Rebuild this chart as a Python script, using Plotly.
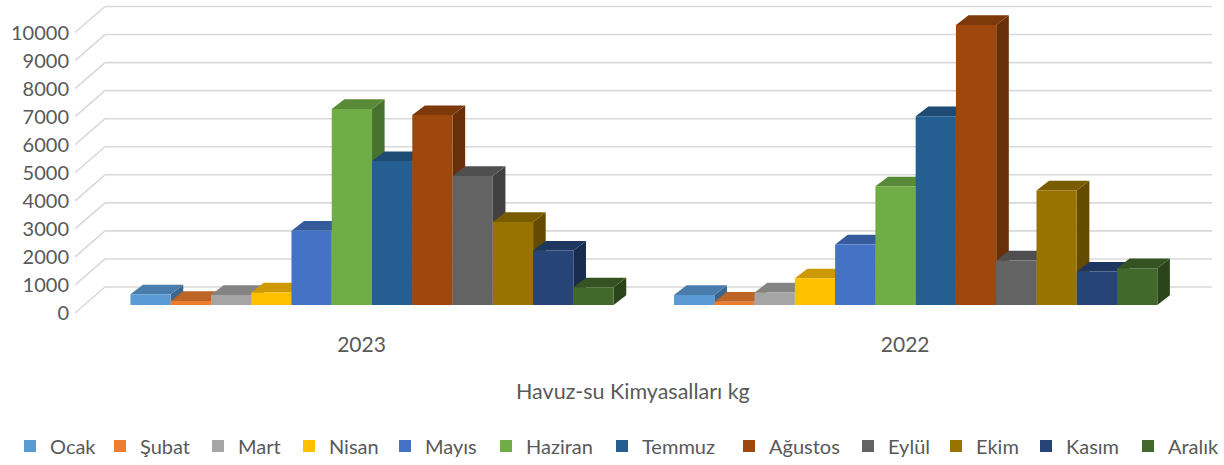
import plotly.graph_objects as go

# ---------------- data ----------------
months = ["Ocak", "Şubat", "Mart", "Nisan", "Mayıs", "Haziran",
          "Temmuz", "Ağustos", "Eylül", "Ekim", "Kasım", "Aralık"]
years = ["2023", "2022"]
values_2023 = [380, 140, 360, 450, 2650, 6990, 5130, 6770, 4600, 2960, 1940, 630]
values_2022 = [360, 120, 450, 950, 2160, 4230, 6730, 9980, 1590, 4080, 1190, 1310]
y_ticks = [0, 1000, 2000, 3000, 4000, 5000, 6000, 7000, 8000, 9000, 10000]
axis_title = "Havuz-su Kimyasalları kg"

colors = ["#5B9BD5", "#ED7D31", "#A5A5A5", "#FFC000", "#4472C4", "#70AD47",
          "#255E91", "#9E480E", "#636363", "#997300", "#264478", "#43682B"]

series = [values_2023, values_2022]

# ---------------- layout geometry (pixels) ----------------
W, H = 1224, 465
L, R, T, B = 75, 1224, 5, 318          # plot area
BAR_PX = 40.27                          # one bar width in px
X0 = 100.2                              # px of x-unit 0
BASE_PX = 305                           # px of value 0 at bar front plane
V_PX = 0.02805                          # px per value unit
GROUP_W = 13.5                          # 12 bars + 1.5 gap
GROUP_PAD = 0.75
BAR_DX, BAR_DY = 12.6, 9.7              # bar depth (px)
FRONT_OFF, BACK_OFF = 8, 18             # wall front/back offsets (px)
WALL_DX = 30                            # wall depth (px)
WALL_RIGHT = 1212                       # right end of back wall (px)
LABEL_SHIFT = 10.5                      # category label shift (px)
LEGEND_W = [45, 53, 46, 51, 56, 71, 82, 74, 43, 45, 57, 55]  # legend spacing (px)

xr = [(L - X0) / BAR_PX, (R - X0) / BAR_PX]
yr = [(BASE_PX - B) / V_PX, (BASE_PX - T) / V_PX]
dxu = BAR_DX / BAR_PX
dyv = BAR_DY / V_PX


def darken(hexc, f):
    h = hexc.lstrip("#")
    r, g, b = (int(h[i:i + 2], 16) for i in (0, 2, 4))
    return "#%02x%02x%02x" % (int(r * f), int(g * f), int(b * f))


fig = go.Figure()
shapes = []

# gridlines: back wall + left diagonal
u_front = (L - X0) / BAR_PX
u_back = (L + WALL_DX - X0) / BAR_PX
u_right = (WALL_RIGHT - X0) / BAR_PX
for v in y_ticks:
    vb = v + BACK_OFF / V_PX
    vf = v - FRONT_OFF / V_PX
    shapes.append(dict(type="line", layer="below", x0=u_back, x1=u_right, y0=vb, y1=vb,
                       line=dict(color="#D9D9D9", width=1.6)))
    shapes.append(dict(type="line", layer="below", x0=u_front, x1=u_back, y0=vf, y1=vb,
                       line=dict(color="#D9D9D9", width=1.6)))

# bar 3D faces (side + top), drawn under front faces
for g, vals in enumerate(series):
    for m, v in enumerate(vals):
        x0 = g * GROUP_W + GROUP_PAD + m
        x1 = x0 + 1
        side = (f"M{x1},0 L{x1 + dxu},{dyv} L{x1 + dxu},{v + dyv} L{x1},{v} Z")
        top = (f"M{x0},{v} L{x1},{v} L{x1 + dxu},{v + dyv} L{x0 + dxu},{v + dyv} Z")
        shapes.append(dict(type="path", layer="below", path=side,
                           fillcolor=darken(colors[m], 0.66), line=dict(width=0)))
        shapes.append(dict(type="path", layer="below", path=top,
                           fillcolor=darken(colors[m], 0.8), line=dict(width=0)))

# front faces
for m, name in enumerate(months):
    xs = [g * GROUP_W + GROUP_PAD + m + 0.5 for g in range(len(years))]
    ys = [series[g][m] for g in range(len(years))]
    fig.add_trace(go.Bar(x=xs, y=ys, width=1, name=name, legendwidth=LEGEND_W[m],
                         marker=dict(color=colors[m], line=dict(width=0)),
                         hoverinfo="name+y"))

tickx = [g * GROUP_W + GROUP_PAD + 6 - LABEL_SHIFT / BAR_PX for g in range(len(years))]

font = "Lato, 'DejaVu Sans', sans-serif"
fig.update_layout(
    width=W, height=H,
    margin=dict(l=L, r=W - R, t=T, b=H - B, autoexpand=False),
    paper_bgcolor="white", plot_bgcolor="white",
    barmode="overlay",
    shapes=shapes,
    showlegend=True,
    legend=dict(orientation="h", xref="paper", yref="paper",
                x=(10 - L) / (R - L), xanchor="left",
                y=(B - 446) / (B - T), yanchor="middle",
                font=dict(family=font, size=20, color="#595959"),
                itemwidth=30, tracegroupgap=0),
    xaxis=dict(range=xr, showgrid=False, zeroline=False, showline=False,
               tickvals=tickx, ticktext=years, ticks="", ticklabelstandoff=12,
               tickfont=dict(family=font, size=21, color="#595959")),
    yaxis=dict(range=yr, showgrid=False, zeroline=False, showline=False,
               tickvals=[v - FRONT_OFF / V_PX for v in y_ticks],
               ticktext=[str(v) for v in y_ticks], ticks="", ticklabelstandoff=5,
               tickfont=dict(family=font, size=20, color="#595959")),
    annotations=[dict(text=axis_title, xref="paper", yref="paper",
                      x=(633 - L) / (R - L), y=(B - 391) / (B - T),
                      xanchor="center", yanchor="middle", showarrow=False,
                      font=dict(family=font, size=21.5, color="#595959"))],
)

fig.write_html("out.html", config={"displayModeBar": False},
               post_script="document.body.style.margin='0px';")
